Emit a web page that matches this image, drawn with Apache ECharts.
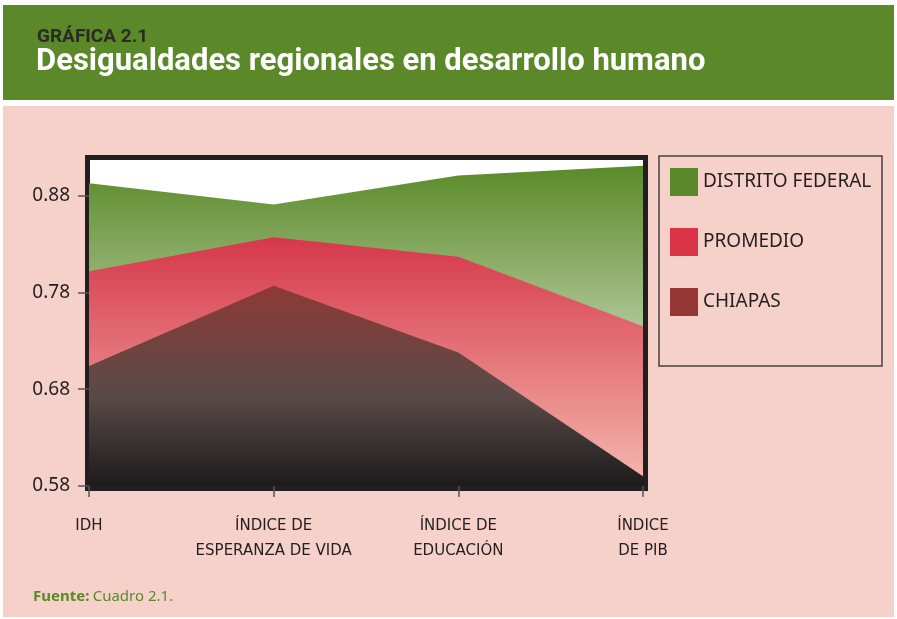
<!DOCTYPE html>
<html>
<head>
<meta charset="utf-8">
<script src="https://cdn.jsdelivr.net/npm/echarts@6/dist/echarts.min.js"></script>
<style>
  html, body { margin: 0; padding: 0; background: #fff; }
  #chart { width: 897px; height: 619px; }
</style>
</head>
<body>
<div id="chart"></div>
<script>
// datos
var categorias = ['IDH', 'ÍNDICE DE\nESPERANZA DE VIDA', 'ÍNDICE DE\nEDUCACIÓN', 'ÍNDICE\nDE PIB'];
var distritoFederal = [0.893, 0.871, 0.901, 0.911];
var promedio = [0.802, 0.837, 0.817, 0.745];
var chiapas = [0.704, 0.787, 0.718, 0.590];
var yTicks = [0.58, 0.68, 0.78, 0.88];

var chart = echarts.init(document.getElementById('chart'));
var font = 'Noto Sans';
var ink = '#231f20';

function grad(stops) {
  return new echarts.graphic.LinearGradient(0, 0, 0, 1, stops.map(function (s) {
    return { offset: s[0], color: s[1] };
  }));
}

function area(name, data, solid, stops) {
  return {
    name: name,
    type: 'line',
    data: data,
    symbol: 'none',
    silent: true,
    itemStyle: { color: solid },
    lineStyle: { width: 0, color: solid },
    areaStyle: { origin: 'start', opacity: 1, color: grad(stops) }
  };
}

var option = {
  backgroundColor: '#ffffff',
  animation: false,
  graphic: [
    { type: 'rect', z: 0, shape: { x: 3, y: 106, width: 891, height: 511 }, style: { fill: '#f6d1ca' } },
    { type: 'rect', z: 0, shape: { x: 3, y: 5, width: 891, height: 95 }, style: { fill: '#5b8829' } },
    { type: 'rect', z: 1, shape: { x: 85, y: 155, width: 563, height: 336 }, style: { fill: '#231f20' } },
    { type: 'rect', z: 1.1, shape: { x: 90, y: 160, width: 553, height: 326 }, style: { fill: '#ffffff' } },
    { type: 'rect', z: 1, shape: { x: 659, y: 156, width: 223, height: 210 },
      style: { fill: 'none', stroke: '#4a3f40', lineWidth: 1.5 } },
    { type: 'text', z: 5, x: 37, y: 37,
      style: { text: 'GRÁFICA 2.1', verticalAlign: 'middle',
        fontFamily: 'Roboto', fontWeight: 'bold', fontSize: 19, fill: '#2b2a26' } },
    { type: 'text', z: 5, x: 36, y: 62,
      style: { text: 'Desigualdades regionales en desarrollo humano', verticalAlign: 'middle',
        fontFamily: 'Roboto', fontWeight: 'bold', fontSize: 31, fill: '#ffffff' } },
    { type: 'text', z: 5, x: 33, y: 597,
      style: { text: '{a|Fuente:} {b|Cuadro 2.1.}', verticalAlign: 'middle',
        rich: {
          a: { fontFamily: font, fontWeight: 'bold', fontSize: 15, fill: '#5b8829' },
          b: { fontFamily: font, fontSize: 15, fill: '#5b8829' }
        } } }
  ],
  legend: {
    orient: 'vertical',
    left: 665,
    top: 163,
    padding: 5,
    itemWidth: 28,
    itemHeight: 28,
    itemGap: 32,
    icon: 'rect',
    itemStyle: { borderWidth: 0 },
    textStyle: { fontFamily: font, fontSize: 19, color: ink, padding: [0, 0, 0, 0] },
    data: ['DISTRITO FEDERAL', 'PROMEDIO', 'CHIAPAS']
  },
  grid: { left: 89, right: 254, top: 157, bottom: 133 },
  xAxis: {
    type: 'category',
    data: categorias,
    boundaryGap: false,
    z: 10,
    axisLine: { show: false },
    axisTick: { show: true, length: 11, lineStyle: { color: '#555', width: 1.5 } },
    axisLabel: { fontFamily: 'DejaVu Sans', fontSize: 15, color: ink, margin: 28, lineHeight: 25, interval: 0 },
    splitLine: { show: false }
  },
  yAxis: {
    type: 'value',
    min: 0.58,
    max: 0.92,
    z: 10,
    axisLine: { show: false },
    axisTick: { show: true, length: 11, customValues: yTicks, lineStyle: { color: '#555', width: 1.5 } },
    axisLabel: {
      customValues: yTicks,
      fontFamily: font, fontSize: 19, color: ink, margin: 19,
      formatter: function (v) { return v.toFixed(2); }
    },
    splitLine: { show: false }
  },
  series: [
    area('DISTRITO FEDERAL', distritoFederal, '#5b8829', [[0, '#5a8a28'], [1, '#ffffff']]),
    area('PROMEDIO', promedio, '#d93348', [[0, '#d6374b'], [1, '#f4b9af']]),
    area('CHIAPAS', chiapas, '#963634', [[0, '#8e3a35'], [0.55, '#584a48'], [1, '#1e1a1c']])
  ]
};

chart.setOption(option);
window.addEventListener('resize', function () {
  chart.resize();
});
</script>
</body>
</html>
